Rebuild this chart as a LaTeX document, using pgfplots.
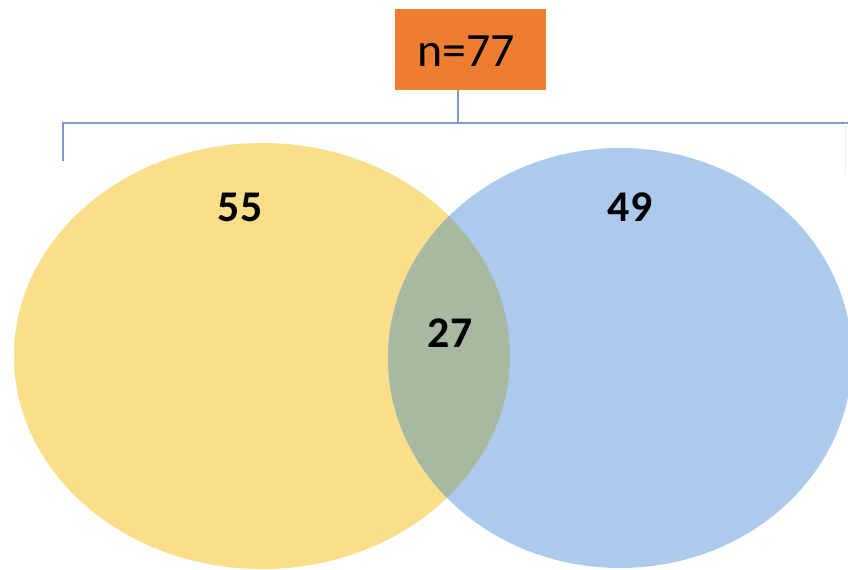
\documentclass[border=0pt]{standalone}
\usepackage{pgfplots}
\pgfplotsset{compat=1.18}
\usepackage{fontspec}
\setmainfont{Carlito}
\definecolor{yel}{HTML}{FADE8A}
\definecolor{blu}{HTML}{ACCAEB}
\definecolor{ov}{HTML}{A8B9A2}
\definecolor{boxor}{HTML}{ED7D31}
\definecolor{linec}{HTML}{7F97C9}
\begin{document}
\begin{tikzpicture}
\begin{axis}[scale only axis, width=848bp, height=570bp,
  xmin=0, xmax=848, ymin=0, ymax=570, y dir=reverse,
  axis lines=none, ticks=none, clip=true]
% ellipses
\fill[yel] (axis cs:262,356) ellipse [x radius=248bp, y radius=213bp];
\fill[blu] (axis cs:620,358) ellipse [x radius=232bp, y radius=210bp];
\begin{scope}
\clip (axis cs:262,356) ellipse [x radius=248bp, y radius=213bp];
\fill[ov] (axis cs:620,358) ellipse [x radius=232bp, y radius=210bp];
\end{scope}
% bracket
\draw[linec, line width=1.4bp] (axis cs:63,161) -- (axis cs:63,123) -- (axis cs:852,123);
\draw[linec!15, line width=1bp] (axis cs:845,123) -- (axis cs:845,175);
\draw[linec, line width=1.4bp] (axis cs:458,90) -- (axis cs:458,123);
% box
\fill[boxor] (axis cs:395,9) rectangle (axis cs:546,90);
\node[inner sep=0, anchor=center, font=\fontsize{48}{56}\selectfont] at (axis cs:466,51) {n=77};
% numbers
\node[inner sep=0, font=\fontsize{44}{50}\selectfont\bfseries] at (axis cs:240,207) {55};
\node[inner sep=0, font=\fontsize{44}{50}\selectfont\bfseries] at (axis cs:630,207) {49};
\node[inner sep=0, font=\fontsize{44}{50}\selectfont\bfseries] at (axis cs:450,333) {27};
\end{axis}
\pgfresetboundingbox
\path[use as bounding box] (current axis.south west) rectangle (current axis.north east);
\end{tikzpicture}
\end{document}
